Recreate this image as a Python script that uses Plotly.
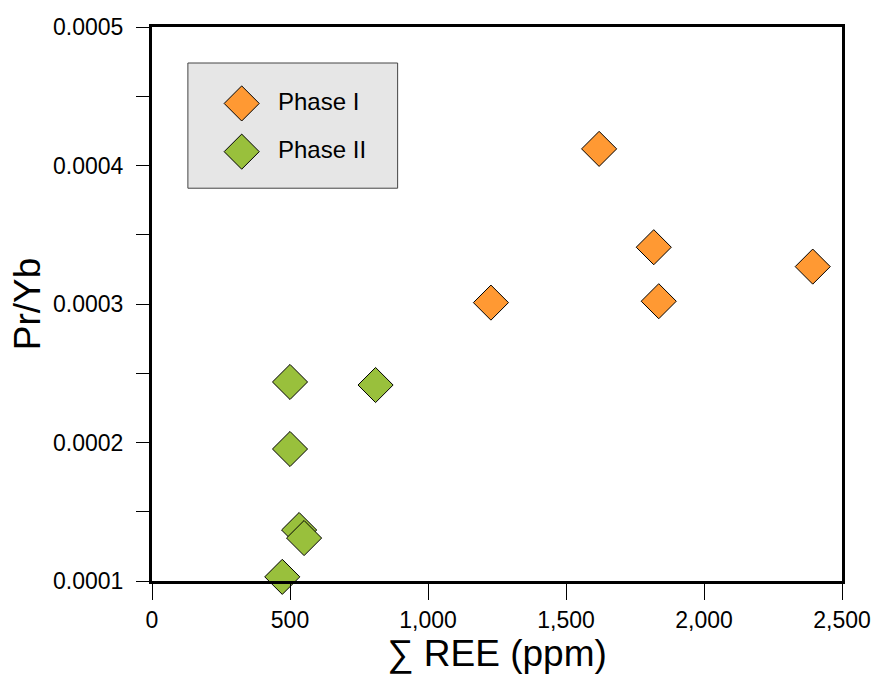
import plotly.graph_objects as go

# Sum of REE (ppm) and Pr/Yb ratio for each phase
phase1_ree = [1620, 1818, 1836, 2394, 1228]
phase1_pryb = [0.000412, 0.000341, 0.000302, 0.000327, 0.000301]

phase2_ree = [500, 810, 500, 533, 551, 472]
phase2_pryb = [0.0002437, 0.0002415, 0.0001953, 0.0001368, 0.000131, 0.000103]

series_names = ["Phase I", "Phase II"]
series_colors = ["#FF9933", "#99C03C"]

FONT = "Liberation Sans, Arial, sans-serif"
MARKER_SIZE = 27

fig = go.Figure()

for name, xs, ys, col in zip(series_names,
                             [phase1_ree, phase2_ree],
                             [phase1_pryb, phase2_pryb],
                             series_colors):
    fig.add_trace(go.Scatter(
        x=xs, y=ys, mode="markers", name=name, showlegend=False,
        marker=dict(symbol="diamond", size=MARKER_SIZE, color=col,
                    line=dict(color="black", width=1)),
        cliponaxis=False,
    ))

# Hand-built legend: grey box, large diamonds and labels (paper coordinates)
legend_y = [0.862, 0.775]
fig.add_shape(type="rect", xref="paper", yref="paper",
              x0=0.052, x1=0.356, y0=0.709, y1=0.935,
              fillcolor="#E6E6E6", line=dict(color="#444444", width=1),
              layer="below")
fig.add_trace(go.Scatter(
    x=[0.13, 0.13], y=legend_y, xaxis="x2", yaxis="y2",
    mode="markers", showlegend=False, hoverinfo="skip",
    marker=dict(symbol="diamond", size=MARKER_SIZE, color=series_colors,
                line=dict(color="black", width=1)),
))
for name, ly in zip(series_names, legend_y):
    fig.add_annotation(x=0.179, y=ly + 0.004, xref="paper", yref="paper",
                       text=name, showarrow=False, xanchor="left",
                       yanchor="middle",
                       font=dict(family=FONT, size=24, color="black"))

fig.update_layout(
    width=883, height=679,
    margin=dict(l=152, r=37, t=27, b=98),
    paper_bgcolor="white", plot_bgcolor="white",
    font=dict(family=FONT, color="black"),
    xaxis=dict(
        range=[0, 2500], dtick=500, tick0=0, tickformat=",d",
        showgrid=False, zeroline=False,
        showline=True, linecolor="black", linewidth=3, mirror=True,
        ticks="outside", ticklen=16, tickwidth=1, tickcolor="black",
        tickfont=dict(family=FONT, size=23),
        title=dict(text="∑ REE (ppm)", font=dict(family=FONT, size=37),
                   standoff=5),
    ),
    yaxis=dict(
        range=[0.0001, 0.0005], dtick=0.0001, tick0=0.0001,
        tickformat=".4f",
        showgrid=False, zeroline=False,
        showline=True, linecolor="black", linewidth=3, mirror=True,
        ticks="outside", ticklen=13, tickwidth=1, tickcolor="black",
        ticklabelstandoff=8,
        minor=dict(dtick=0.00005, tick0=0.0001, ticks="outside",
                   ticklen=13, tickwidth=1, tickcolor="black",
                   showgrid=False),
        tickfont=dict(family=FONT, size=23),
        title=dict(text="Pr/Yb", font=dict(family=FONT, size=37),
                   standoff=2),
    ),
    xaxis2=dict(range=[0, 1], overlaying="x", visible=False),
    yaxis2=dict(range=[0, 1], overlaying="y", visible=False),
)

fig.write_html("out.html")
